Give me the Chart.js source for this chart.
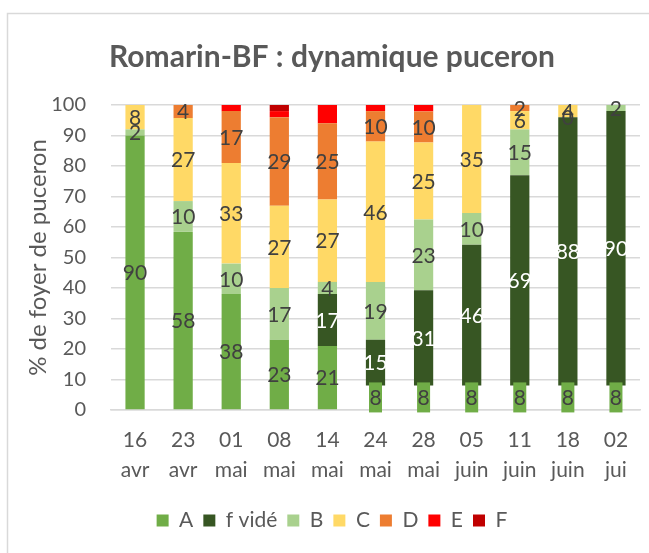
<!DOCTYPE html>
<html><head><meta charset="utf-8">
<style>html,body{margin:0;padding:0;background:#fff}canvas{display:block}</style>
<script src="https://cdn.jsdelivr.net/npm/chart.js@4/dist/chart.umd.min.js"></script>
</head><body>
<canvas id="c" width="649" height="553"></canvas>
<script>
const categories = [["16","avr"],["23","avr"],["01","mai"],["08","mai"],["14","mai"],["24","mai"],["28","mai"],["05","juin"],["11","juin"],["18","juin"],["02","jui"]];
const seriesA     = [90, 58.4, 38, 23, 21, 8, 8, 8, 8, 8, 8];
const seriesFVide = [null, null, null, null, 17, 15, 31.3, 46.2, 69, 88, 90];
const seriesB     = [2, 10.1, 10, 17, 4, 19, 23.2, 10.4, 15, 0, 2];
const seriesC     = [8, 27.2, 33, 27, 27, 46, 25.2, 35.4, 6, 4, null];
const seriesD     = [null, 4.3, 17, 29, 25, 10, 10.2, null, 2, null, null];
const seriesE     = [null, null, 2, 2, 6, 2, 2.1, null, null, null, null];
const seriesF     = [null, null, null, 2, null, null, null, null, null, null, null];
const yTicks = [0, 10, 20, 30, 40, 50, 60, 70, 80, 90, 100];

const FONT = 'Lato, "Open Sans", sans-serif';
const GREEN = '#70AD47';
// A bars of the later dates are shown only as a filled label box
const aColors = seriesA.map((v, i) => i >= 5 ? 'rgba(0,0,0,0)' : GREEN);

const bgPlugin = {
  id: 'bg',
  beforeDraw(chart) {
    const ctx = chart.ctx;
    ctx.save();
    ctx.fillStyle = '#fff';
    ctx.fillRect(0, 0, chart.width, chart.height);
    ctx.strokeStyle = '#d9d9d9';
    ctx.lineWidth = 1.5;
    ctx.strokeRect(7.5, 13.5, chart.width + 20, chart.height + 20);
    ctx.restore();
  }
};

const labelPlugin = {
  id: 'vlabels',
  afterDatasetsDraw(chart) {
    const ctx = chart.ctx;
    ctx.save();
    ctx.font = '21px ' + FONT;
    ctx.textAlign = 'center';
    ctx.textBaseline = 'middle';
    chart.data.datasets.forEach((ds, di) => {
      if (!ds.showValues) return;
      const meta = chart.getDatasetMeta(di);
      meta.data.forEach((el, i) => {
        const v = ds.data[i];
        if (v === null || v === undefined) return;
        const x = el.x;
        const y = (el.y + el.base) / 2;
        const bg = Array.isArray(ds.backgroundColor) ? ds.backgroundColor[i] : ds.backgroundColor;
        if (bg === 'rgba(0,0,0,0)') {
          ctx.fillStyle = GREEN;
          ctx.fillRect(x - 6.5, y - 15, 13, 30);
        }
        ctx.fillStyle = ds.labelColor;
        ctx.fillText(String(Math.round(v)), x, y + 1);
      });
    });
    ctx.restore();
  }
};

new Chart(document.getElementById('c'), {
  type: 'bar',
  data: {
    labels: categories,
    datasets: [
      {label: 'A', data: seriesA, backgroundColor: aColors, showValues: true, labelColor: '#404040'},
      {label: 'f vidé', data: seriesFVide, backgroundColor: '#375623', showValues: true, labelColor: '#ffffff'},
      {label: 'B', data: seriesB, backgroundColor: '#A9D18E', showValues: true, labelColor: '#404040'},
      {label: 'C', data: seriesC, backgroundColor: '#FFD966', showValues: true, labelColor: '#404040'},
      {label: 'D', data: seriesD, backgroundColor: '#ED7D31', showValues: true, labelColor: '#404040'},
      {label: 'E', data: seriesE, backgroundColor: '#FF0000', showValues: false},
      {label: 'F', data: seriesF, backgroundColor: '#C00000', showValues: false}
    ].map(d => Object.assign(d, {categoryPercentage: 1, barPercentage: 0.4, borderWidth: 0}))
  },
  options: {
    responsive: false,
    animation: false,
    devicePixelRatio: 1,
    layout: {padding: {left: 24, right: 9, top: 0, bottom: 12}},
    plugins: {
      title: {
        display: true,
        text: 'Romarin-BF : dynamique puceron',
        color: '#595959',
        font: {family: FONT, size: 30, weight: 'bold'},
        padding: {top: 39, bottom: 30}
      },
      legend: {
        position: 'bottom',
        labels: {
          boxWidth: 12, boxHeight: 12, padding: 10,
          color: '#595959',
          font: {family: FONT, size: 21},
          generateLabels(chart) {
            return chart.data.datasets.map((ds, i) => ({
              text: ds.label,
              fillStyle: i === 0 ? GREEN : ds.backgroundColor,
              strokeStyle: 'rgba(0,0,0,0)',
              lineWidth: 0,
              fontColor: '#595959',
              hidden: false,
              datasetIndex: i
            }));
          }
        }
      },
      tooltip: {enabled: false}
    },
    scales: {
      x: {
        stacked: true,
        grid: {display: false, drawTicks: false},
        border: {color: '#d9d9d9', width: 1.5},
        ticks: {color: '#595959', font: {family: FONT, size: 21, lineHeight: 1.4}, padding: 16, maxRotation: 0, autoSkip: false},
        afterFit(s) { s.height = 90; }
      },
      y: {
        stacked: true,
        min: 0, max: 100,
        afterBuildTicks(s) { s.ticks = yTicks.map(v => ({value: v})); },
        grid: {color: '#d9d9d9', lineWidth: 1.5, drawTicks: false},
        border: {display: false},
        ticks: {color: '#595959', font: {family: FONT, size: 20}, padding: 25},
        title: {
          display: true,
          text: '% de foyer de puceron',
          color: '#595959',
          font: {family: FONT, size: 24},
          padding: {top: 0, bottom: 0}
        },
        afterFit(s) { s.width = 87; }
      }
    }
  },
  plugins: [bgPlugin, labelPlugin]
});
</script>
</body></html>
